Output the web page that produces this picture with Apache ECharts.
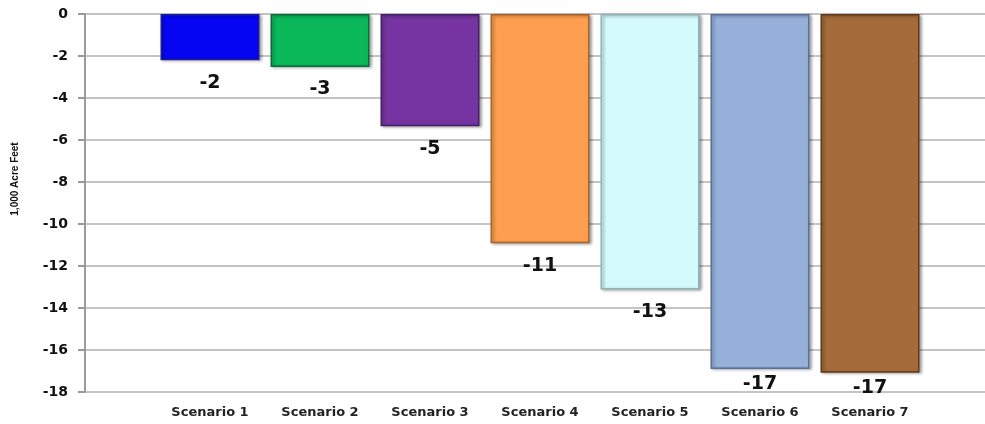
<!DOCTYPE html>
<html>
<head>
<meta charset="utf-8">
<script src="https://cdn.jsdelivr.net/npm/echarts@6/dist/echarts.min.js"></script>
<style>
  html, body { margin: 0; padding: 0; background: #fff; }
  #chart { width: 985px; height: 424px; }
</style>
</head>
<body>
<div id="chart"></div>
<script>
// Change in storage per scenario, in thousands of acre-feet
const categories = ['Scenario 1', 'Scenario 2', 'Scenario 3', 'Scenario 4', 'Scenario 5', 'Scenario 6', 'Scenario 7'];
const values = [-2.2, -2.52, -5.35, -10.92, -13.12, -16.9, -17.08];
const barColors = ['#0505f2', '#0ab85a', '#7534a2', '#fd9f4e', '#d4fbfc', '#95b1d9', '#a56b39'];
const edgeColors = ['#1c1c9a', '#0b6e3a', '#45206a', '#a8632a', '#8fb4b5', '#5a7096', '#5e3a1c'];
const yTicks = { min: -18, max: 0, step: 2 };

const chart = echarts.init(document.getElementById('chart'), null, { renderer: 'canvas' });

const barData = values.map((v, i) => ({
  value: v,
  itemStyle: {
    color: barColors[i],
    borderColor: edgeColors[i],
    borderWidth: 1.5,
    shadowColor: 'rgba(0,0,0,0.35)',
    shadowBlur: 3,
    shadowOffsetX: 2,
    shadowOffsetY: 1
  },
  // the deepest bars keep their labels clear of the bottom gridline
  label: { distance: v < -16 ? 6 : 13 }
}));

chart.setOption({
  animation: false,
  grid: [
    { left: 85, right: 0, top: 14, bottom: 32 },
    { left: 155, width: 770, top: 14, bottom: 32 }
  ],
  xAxis: [
    { type: 'value', gridIndex: 0, show: false, min: 0, max: 1 },
    {
      type: 'category', gridIndex: 1, data: categories,
      axisLine: { show: false }, axisTick: { show: false },
      axisLabel: {
        margin: 14, color: '#222',
        fontFamily: 'DejaVu Sans', fontWeight: 'bold', fontSize: 13
      }
    }
  ],
  yAxis: [
    {
      type: 'value', gridIndex: 0,
      min: yTicks.min, max: yTicks.max, interval: yTicks.step,
      axisLine: { show: true, lineStyle: { color: '#9a9a9a', width: 2 } },
      axisTick: { show: true, length: 7, lineStyle: { color: '#9a9a9a', width: 2 } },
      splitLine: { show: true, lineStyle: { color: '#c4c4c4', width: 2 } },
      axisLabel: {
        margin: 17, color: '#111',
        fontFamily: 'DejaVu Sans', fontWeight: 'bold', fontSize: 14
      }
    },
    {
      type: 'value', gridIndex: 1, show: false,
      min: yTicks.min, max: yTicks.max, interval: yTicks.step,
      splitLine: { show: false }
    }
  ],
  graphic: [{
    type: 'text',
    x: 15, y: 179,
    rotation: Math.PI / 2,
    style: {
      text: '1,000 Acre Feet',
      font: 'bold 10px "Liberation Sans", Arial, sans-serif',
      fill: '#111',
      align: 'center',
      verticalAlign: 'middle'
    }
  }],
  series: [{
    type: 'bar',
    xAxisIndex: 1, yAxisIndex: 1,
    barWidth: 99,
    data: barData,
    label: {
      show: true,
      position: 'bottom',
      color: '#111',
      fontFamily: 'DejaVu Sans', fontWeight: 'bold', fontSize: 19,
      formatter: p => String(Math.round(p.value))
    }
  }]
});
</script>
</body>
</html>
